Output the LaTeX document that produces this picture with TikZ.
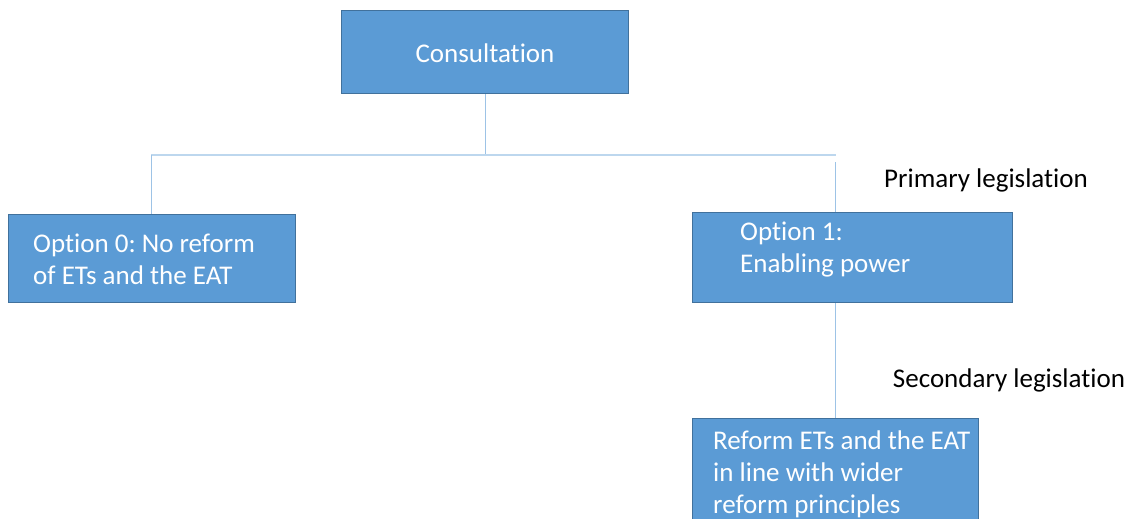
\documentclass[tikz,border=0pt]{standalone}
\usepackage{fontspec}
\setmainfont{Carlito}[Ligatures={NoCommon}]
\definecolor{boxfill}{HTML}{5B9BD5}
\definecolor{boxline}{HTML}{41719C}
\definecolor{hline}{HTML}{BDD7EE}
\definecolor{vline}{HTML}{9DC3E6}
\tikzset{
  box/.style={draw=boxline, line width=1pt, fill=boxfill, rectangle, anchor=north west, inner sep=0pt},
  boxtext/.style={text=white, font=\fontsize{27}{32}\selectfont, align=left, anchor=west, inner sep=0pt},
  lbl/.style={text=black, font=\fontsize{27}{32}\selectfont, anchor=center, inner sep=0pt},
  vconn/.style={draw=vline, line width=1pt},
  hconn/.style={draw=hline, line width=2pt}
}
\frenchspacing
\begin{document}
\begin{tikzpicture}[x=1pt,y=-1pt]
\clip (0,0) rectangle (1129,519);
\fill[white] (0,0) rectangle (1129,519);
% coordinates
\coordinate (top) at (485,155);
\coordinate (hl) at (151,155);
\coordinate (hr) at (836,155);
\coordinate (rv) at (835,162);
% boxes
\node[box, minimum width=287pt, minimum height=83pt] (cons) at (341,10) {};
\node[box, minimum width=287pt, minimum height=88pt] (opt0) at (8,214) {};
\node[box, minimum width=320pt, minimum height=90pt] (opt1) at (692,212) {};
\node[box, minimum width=286pt, minimum height=130pt] (ref) at (692,418) {};
% connectors
\draw[vconn] (cons.south) -- (top);
\draw[hconn] (hl) -- (hr);
\draw[vconn] (hl) -- (hl |- opt0.north);
\draw[vconn] (rv) -- (rv |- opt1.north);
\draw[vconn] (rv |- opt1.south) -- (rv |- ref.north);
% texts
\node[boxtext, anchor=center] (tcons) at (485,53) {Consultation};
\node[boxtext] (t0) at (33,259) {Option 0: No reform\\of ETs and the EAT};
\node[boxtext] (t1) at (740,250) {Option 1:\\Enabling power};
\node[boxtext] (tr) at (713,474) {Reform ETs and the EAT\\in line with wider\\reform principles};
\node[lbl] (prim) at (986,180) {Primary legislation};
\node[lbl] (sec) at (1009,380) {Secondary legislation};
\end{tikzpicture}
\end{document}
